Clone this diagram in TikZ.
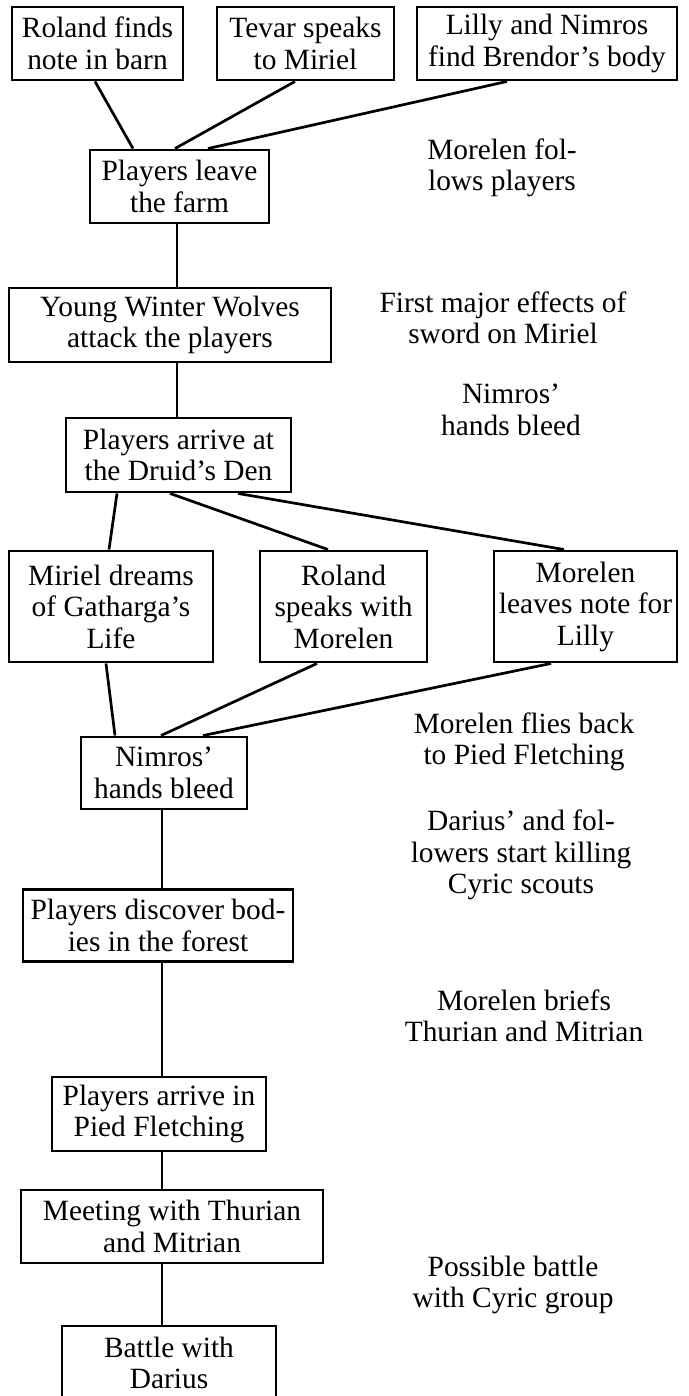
\documentclass[tikz,border=0pt]{standalone}
\usepackage{fontspec}
\setmainfont{Liberation Serif}

\begin{document}
\begin{tikzpicture}[x=1pt,y=-1pt,
    font=\fontsize{29.4}{31.5}\selectfont,
    event/.style={draw,rectangle,line width=2.9pt,align=center,inner sep=0pt},
    note/.style={align=center,inner sep=0pt},
    link/.style={-,line width=2.7pt}]
    \useasboundingbox (0,0) rectangle (688,1396);

    \node  (roland) at (97.5,43.5) [event,minimum width=171pt,minimum height=73pt] {Roland finds\\note in barn};
    \node   (tevar) at (305.5,43.5) [event,minimum width=177pt,minimum height=73pt] {Tevar speaks\\to Miriel};
    \node   (lilly) at (547,43.5) [event,minimum width=260pt,minimum height=73pt] {Lilly and Nimros\\find Brendor’s body};
    \node    (farm) at (179.5,186.5) [event,minimum width=179pt,minimum height=73pt] {Players leave\\the farm};
    \node  (wolves) at (170,325) [event,minimum width=322pt,minimum height=74pt] {Young Winter Wolves\\attack the players};
    \node   (druid) at (178.5,455) [event,minimum width=225pt,minimum height=74pt] {Players arrive at\\the Druid’s Den};
    \node  (dreams) at (111,606.5) [event,minimum width=204pt,minimum height=111pt] {Miriel dreams\\of Gatharga’s\\Life};
    \node (speaks) at (343.5,606.5) [event,minimum width=167pt,minimum height=111pt] {Roland\\speaks with\\Morelen};
    \node (leaves) at (585.5,606.5) [event,minimum width=183pt,minimum height=111pt] {Morelen\\leaves note for\\Lilly};
    \node   (bleed) at (164,773) [event,minimum width=166pt,minimum height=72pt] {Nimros’\\hands bleed};
    \node  (bodies) at (158,925.5) [event,minimum width=270pt,minimum height=72pt] {Players discover bod-\\ies in the forest};
    \node    (pied) at (159,1114) [event,minimum width=214pt,minimum height=74pt] {Players arrive in\\Pied Fletching};
    \node (meeting) at (172,1226.5) [event,minimum width=302pt,minimum height=73pt] {Meeting with Thurian\\and Mitrian};
    \node  (battle) at (169,1363) [event,minimum width=214pt,minimum height=74pt] {Battle with\\Darius};

    \node (follows) at (502,168) [note] {Morelen fol-\\lows players};
    \node  (sword) at (503,318) [note] {First major effects of\\sword on Miriel};
    \node (hands) at (511,410) [note] {Nimros’\\hands bleed};
    \node  (flies) at (524,742) [note] {Morelen flies back\\to Pied Fletching};
    \node (scouts) at (521,855) [note] {Darius’ and fol-\\lowers start killing\\Cyric scouts};
    \node (briefs) at (524,1016) [note] {Morelen briefs\\Thurian and Mitrian};
    \node (cyric) at (513,1285) [note] {Possible battle\\with Cyric group};

    \draw[link] ([xshift=-2.5pt]roland.south) to ([xshift=-46.5pt]farm.north);
    \draw[link] ([xshift=-10.5pt]tevar.south) to ([xshift=-4.5pt]farm.north);
    \draw[link] ([xshift=-40pt]lilly.south)  to ([xshift=28.5pt]farm.north);

    \draw[link] ([xshift=-2.5pt]farm.south)   to ([xshift=7pt]wolves.north);
    \draw[link] ([xshift=7pt]wolves.south)    to ([xshift=-1.5pt]druid.north);

    \draw[link] ([xshift=-61.5pt]druid.south) to ([xshift=-2pt]dreams.north);
    \draw[link] ([xshift=-8.5pt]druid.south)  to ([xshift=-15.5pt]speaks.north);
    \draw[link] ([xshift=59.5pt]druid.south)  to ([xshift=-21.5pt]leaves.north);

    \draw[link] ([xshift=-5pt]dreams.south)    to ([xshift=-49pt]bleed.north);
    \draw[link] ([xshift=-26.5pt]speaks.south) to ([xshift=-3pt]bleed.north);
    \draw[link] ([xshift=-34.5pt]leaves.south) to ([xshift=39pt]bleed.north);

    \draw[link] ([xshift=-2pt]bleed.south)   to ([xshift=4pt]bodies.north);
    \draw[link] ([xshift=4pt]bodies.south)   to ([xshift=3pt]pied.north);
    \draw[link] ([xshift=3pt]pied.south)     to ([xshift=-10pt]meeting.north);
    \draw[link] ([xshift=-10pt]meeting.south) to ([xshift=-7pt]battle.north);

\end{tikzpicture}
\end{document}
